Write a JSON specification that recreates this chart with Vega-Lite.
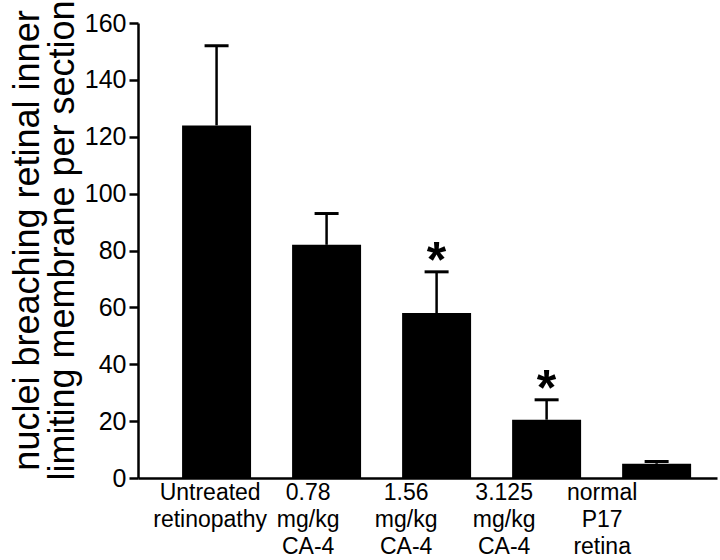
{
  "$schema": "https://vega.github.io/schema/vega-lite/v6.json",
  "width": 579,
  "height": 455,
  "autosize": {"type": "none"},
  "padding": {"left": 138, "top": 23, "right": 3, "bottom": 82},
  "background": "white",
  "config": {
    "view": {"stroke": null},
    "font": "Liberation Sans",
    "axis": {"grid": false, "domainColor": "black", "tickColor": "black", "labelColor": "black", "titleColor": "black", "labelFont": "Liberation Sans", "titleFont": "Liberation Sans"}
  },
  "data": {
    "values": [
      {"group": "Untreated retinopathy", "value": 124, "err": 152, "sig": ""},
      {"group": "0.78 mg/kg CA-4", "value": 82, "err": 93, "sig": ""},
      {"group": "1.56 mg/kg CA-4", "value": 58, "err": 72.5, "sig": "*"},
      {"group": "3.125 mg/kg CA-4", "value": 20.5, "err": 27.5, "sig": "*"},
      {"group": "normal P17 retina", "value": 5, "err": 5.8, "sig": ""}
    ]
  },
  "layer": [
    {
      "layer": [
        {
          "mark": {"type": "bar", "color": "black"},
          "encoding": {
            "x": {"field": "group", "type": "nominal", "sort": null,
              "scale": {"paddingInner": 0.373, "paddingOuter": 0.318, "align": 0.63},
              "axis": {"orient": "bottom", "labels": false, "ticks": false, "title": null, "domainWidth": 2.5}},
            "y": {"field": "value", "type": "quantitative",
              "scale": {"domain": [0, 160], "nice": false},
              "axis": {
                "title": ["nuclei breaching retinal inner", "limiting membrane per section"],
                "titleFontSize": 36, "titleFontWeight": "normal", "titleLineHeight": 35,
                "titleX": -92, "titleY": 217, "titleAngle": -90, "titleBaseline": "bottom", "titleAlign": "center",
                "values": [0, 20, 40, 60, 80, 100, 120, 140, 160],
                "labelFontSize": 25, "labelPadding": 3, "tickSize": 9, "tickWidth": 2.5, "domainWidth": 2.5,
                "labelFlush": false, "labelOverlap": false
              }}
          }
        },
        {
          "mark": {"type": "rule", "strokeWidth": 2.5, "color": "black"},
          "encoding": {
            "x": {"field": "group", "type": "nominal", "sort": null},
            "y": {"field": "value", "type": "quantitative"},
            "y2": {"field": "err"}
          }
        },
        {
          "mark": {"type": "tick", "color": "black", "size": 24, "thickness": 3, "opacity": 1},
          "encoding": {
            "x": {"field": "group", "type": "nominal", "sort": null},
            "y": {"field": "err", "type": "quantitative"}
          }
        },
        {
          "mark": {"type": "text", "fontSize": 50, "fontWeight": "bold", "baseline": "alphabetic", "dy": 5, "color": "black"},
          "encoding": {
            "x": {"field": "group", "type": "nominal", "sort": null},
            "y": {"field": "err", "type": "quantitative"},
            "text": {"field": "sig"}
          }
        }
      ]
    },
    {
      "mark": {"type": "bar", "opacity": 0},
      "encoding": {
        "x": {"field": "group", "type": "nominal", "sort": null,
          "scale": {"paddingInner": 0, "paddingOuter": 0.454, "align": 0.26},
          "axis": {"orient": "bottom", "domain": false, "ticks": false, "title": null,
            "labelExpr": "split(datum.value, ' ')", "labelFontSize": 23, "labelLineHeight": 27,
            "labelPadding": 3, "labelAngle": 0, "labelBaseline": "top", "labelAlign": "center"}},
        "y": {"field": "value", "type": "quantitative"}
      }
    }
  ],
  "resolve": {"scale": {"x": "independent"}}
}
